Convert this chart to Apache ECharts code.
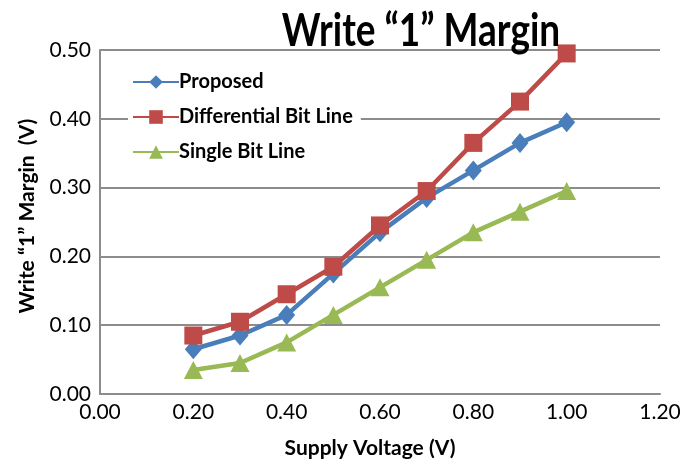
<!DOCTYPE html>
<html>
<head>
<meta charset="utf-8">
<script src="https://cdn.jsdelivr.net/npm/echarts@6/dist/echarts.min.js"></script>
<style>
  html, body { margin: 0; padding: 0; background: #fff; }
  #chart { width: 692px; height: 464px; }
</style>
</head>
<body>
<div id="chart"></div>
<script>
// Supply voltage sweep (V)
const voltages = [0.2, 0.3, 0.4, 0.5, 0.6, 0.7, 0.8, 0.9, 1.0];
// Write "1" margin (V) for each bit-line scheme
const proposed = [0.065, 0.085, 0.115, 0.175, 0.235, 0.285, 0.325, 0.365, 0.395];
const differential = [0.085, 0.105, 0.145, 0.185, 0.245, 0.295, 0.365, 0.425, 0.495];
const single = [0.035, 0.045, 0.075, 0.115, 0.155, 0.195, 0.235, 0.265, 0.295];
const seriesNames = ['Proposed', 'Differential Bit Line', 'Single Bit Line'];
const titleText = 'Write \u201C1\u201D Margin';

const FONT = 'Lato';
const pair = arr => voltages.map((v, i) => [v, arr[i]]);

const chart = echarts.init(document.getElementById('chart'));
chart.setOption({
  backgroundColor: '#fff',
  animation: false,
  // tall, condensed-looking heading
  graphic: [{
    type: 'text', x: 421, y: 31, scaleY: 1.25, z: 10,
    style: {
      text: titleText, fill: '#000',
      font: 'bold 37px ' + FONT,
      align: 'center', verticalAlign: 'middle'
    }
  }],
  legend: {
    left: 128, top: 68, orient: 'vertical', itemGap: 15,
    itemWidth: 46, itemHeight: 17,
    backgroundColor: '#fff', padding: [4, 8, 4, 4],
    textStyle: { fontFamily: FONT, fontSize: 20, fontWeight: 'bold', color: '#000', padding: [0, 0, 0, -5] },
    data: seriesNames
  },
  grid: { left: 100, right: 32, top: 50, bottom: 70 },
  xAxis: {
    type: 'value', min: 0, max: 1.2, interval: 0.2,
    name: 'Supply Voltage (V)', nameLocation: 'middle', nameGap: 44,
    nameTextStyle: { fontFamily: FONT, fontSize: 21, fontWeight: 'bold', color: '#000', padding: [0, 20, 0, 0] },
    axisLine: { lineStyle: { color: '#8c8c8c', width: 2 } },
    axisTick: { show: false },
    splitLine: { show: false },
    axisLabel: { fontFamily: FONT, fontSize: 21, color: '#000', margin: 8, formatter: v => v.toFixed(2) }
  },
  yAxis: {
    type: 'value', min: 0, max: 0.5, interval: 0.1,
    name: 'Write \u201C1\u201D Margin  (V)', nameLocation: 'middle', nameGap: 62,
    nameTextStyle: { fontFamily: FONT, fontSize: 21, fontWeight: 'bold', color: '#000', padding: [0, 0, 0, 12] },
    axisLine: { show: true, lineStyle: { color: '#8c8c8c', width: 2 } },
    axisTick: { show: false },
    splitLine: { lineStyle: { color: '#8c8c8c', width: 2 } },
    axisLabel: { fontFamily: FONT, fontSize: 21, color: '#000', margin: 9, formatter: v => v.toFixed(2) }
  },
  series: [
    { name: seriesNames[0], type: 'line', data: pair(proposed), symbol: 'diamond', symbolSize: [17, 20],
      itemStyle: { color: '#4A7EBB' }, lineStyle: { width: 4.5, color: '#4A7EBB' }, z: 3 },
    { name: seriesNames[1], type: 'line', data: pair(differential), symbol: 'rect', symbolSize: 18,
      itemStyle: { color: '#BE4B48' }, lineStyle: { width: 4.5, color: '#BE4B48' }, z: 4 },
    { name: seriesNames[2], type: 'line', data: pair(single), symbol: 'triangle', symbolSize: [19, 18],
      itemStyle: { color: '#98B954' }, lineStyle: { width: 4.5, color: '#98B954' }, z: 2 }
  ]
});
</script>
</body>
</html>
